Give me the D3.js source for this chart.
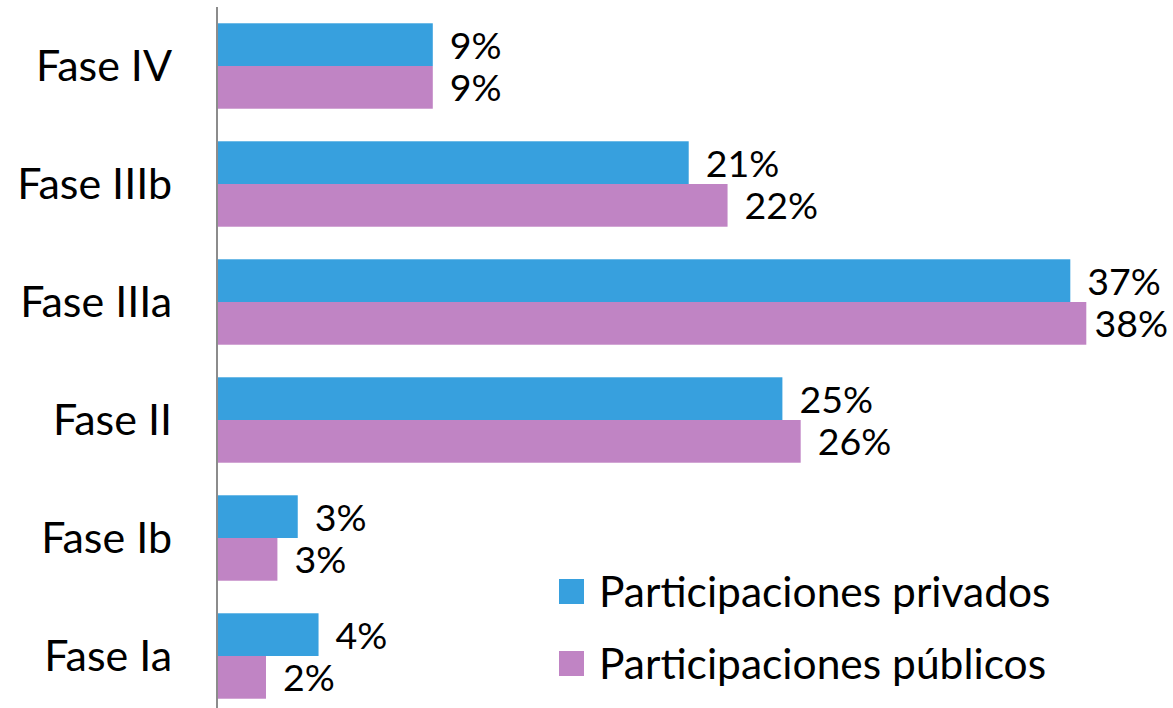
<!DOCTYPE html>
<html>
<head>
<meta charset="utf-8">
<script src="https://cdn.jsdelivr.net/npm/d3@7"></script>
<style>
  body { margin: 0; background: #fff; }
  text { font-family: Lato, "Open Sans", sans-serif; fill: #000; }
</style>
</head>
<body>
<script>
// fases, top to bottom as shown
const fases = ['Fase IV', 'Fase IIIb', 'Fase IIIa', 'Fase II', 'Fase Ib', 'Fase Ia'];
// share of participaciones (%) per fase
const privados = [9.4, 20.6, 37.3, 24.7, 3.49, 4.4];
const publicos = [9.4, 22.3, 38.0, 25.5, 2.6, 2.1];
const series = ['Participaciones privados', 'Participaciones públicos'];
const colores = ['#37a0de', '#c084c4'];

const w = 1173, h = 708;

const svg = d3.select('body')
  .append('svg')
  .attr('width', w)
  .attr('height', h);

const x = d3.scaleLinear().domain([0, 40]).range([218, 1132]);
const y = d3.scaleBand().domain(fases).range([7, 715]).paddingInner(0.276).paddingOuter(0.138);
const y2 = d3.scaleBand().domain([0, 1]).range([0, y.bandwidth()]);

const rows = fases.map((f, i) => ({ fase: f, vals: [privados[i], publicos[i]] }));

const g = svg.selectAll('g.fase')
  .data(rows)
  .enter()
  .append('g')
  .attr('class', 'fase')
  .attr('transform', d => `translate(0,${y(d.fase)})`);

g.selectAll('rect')
  .data(d => d.vals)
  .enter()
  .append('rect')
  .attr('x', x(0))
  .attr('y', (d, i) => y2(i))
  .attr('width', d => x(d) - x(0))
  .attr('height', y2.bandwidth())
  .attr('fill', (d, i) => colores[i]);

// value labels, centered on each bar; pushed back in if they would run off the right edge
g.selectAll('text.val')
  .data(d => d.vals)
  .enter()
  .append('text')
  .attr('class', 'val')
  .attr('y', (d, i) => y2(i) + y2.bandwidth() / 2 + 14)
  .style('font-size', '37.5px')
  .text(d => Math.round(d) + '%')
  .attr('x', function (d) {
    const tw = this.getComputedTextLength();
    return Math.min(x(d) + 17, w - 5 - tw);
  });

// category labels
svg.selectAll('text.cat')
  .data(fases)
  .enter()
  .append('text')
  .attr('class', 'cat')
  .attr('x', 172)
  .attr('y', d => y(d) + y.bandwidth() / 2 + 15)
  .attr('text-anchor', 'end')
  .style('font-size', '43px')
  .text(d => d);

// vertical axis line
svg.append('line')
  .attr('x1', 217).attr('x2', 217)
  .attr('y1', 7).attr('y2', h)
  .attr('stroke', '#8c8c8c')
  .attr('stroke-width', 2);

// legend
const leg = svg.selectAll('g.leg')
  .data(series)
  .enter()
  .append('g')
  .attr('class', 'leg')
  .attr('transform', (d, i) => `translate(559,${579 + i * 72})`);

leg.append('rect')
  .attr('width', 25)
  .attr('height', 25)
  .attr('fill', (d, i) => colores[i]);

leg.append('text')
  .attr('x', 40)
  .attr('y', 28)
  .style('font-size', '42.5px')
  .text(d => d);
</script>
</body>
</html>
